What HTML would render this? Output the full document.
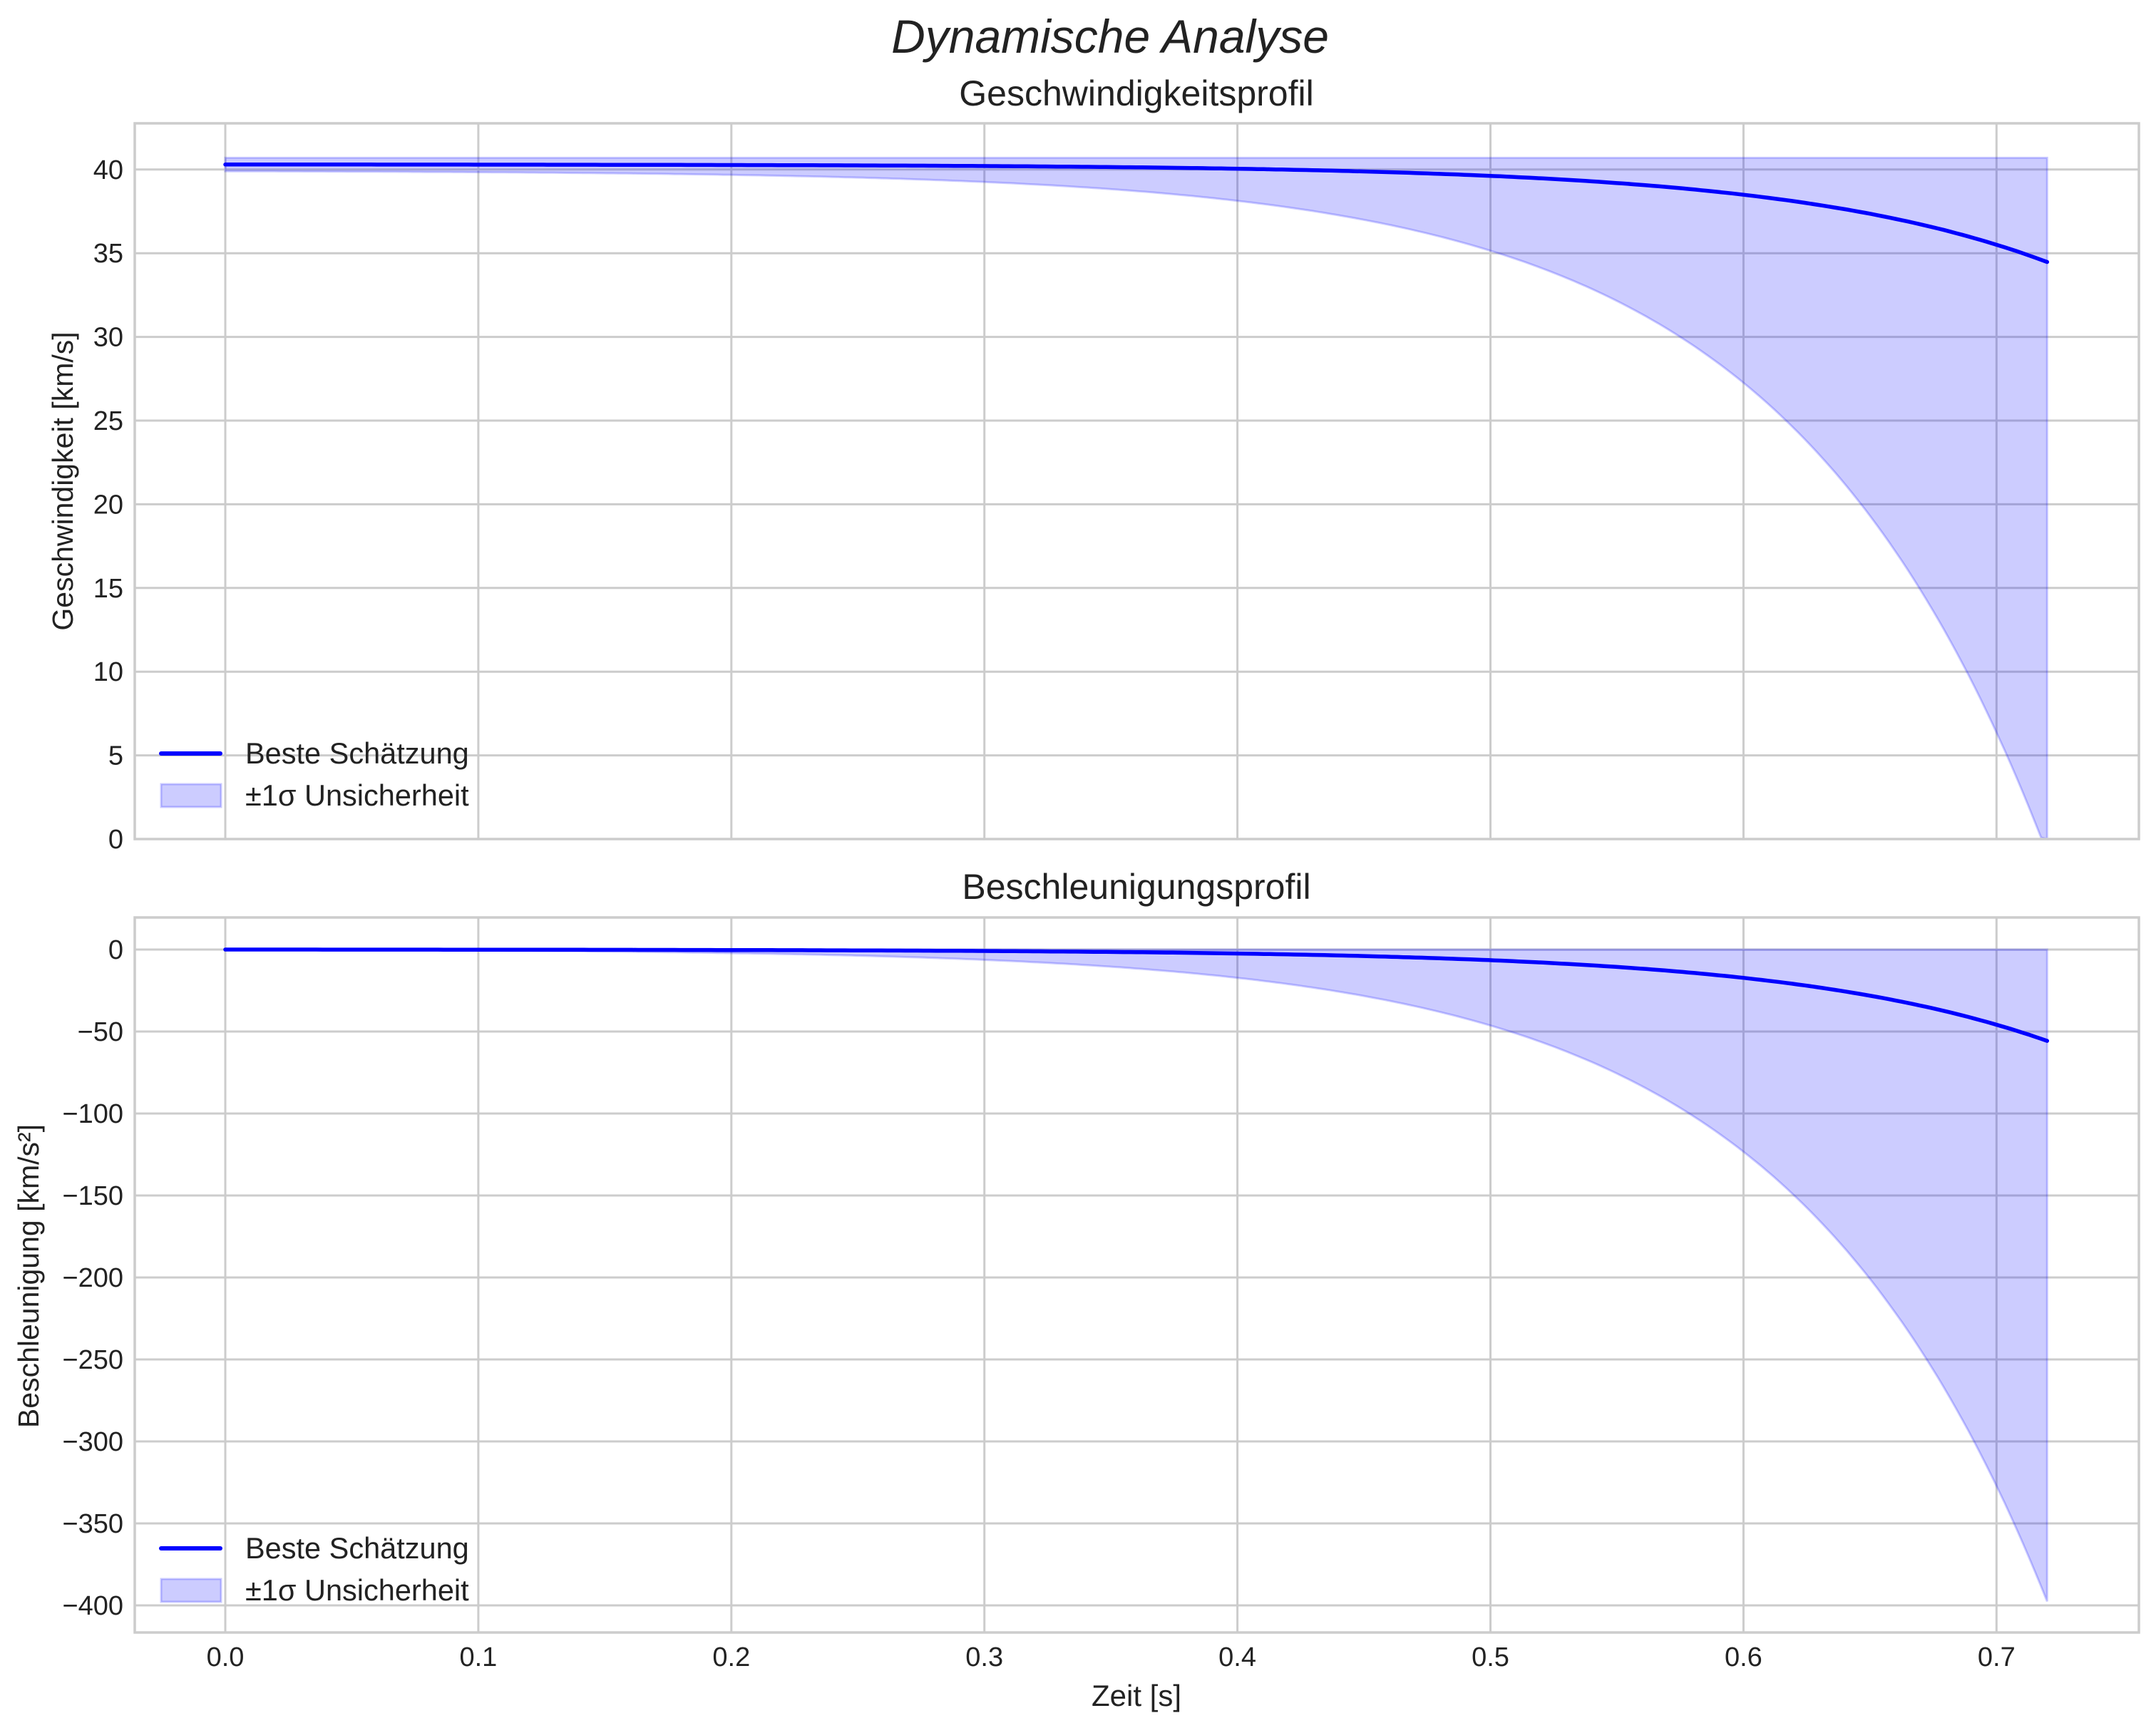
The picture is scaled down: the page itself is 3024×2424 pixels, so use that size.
<!DOCTYPE html>
<html><head><meta charset="utf-8"><style>
html,body{margin:0;padding:0;background:#fff;}
svg{display:block;font-family:"Liberation Sans",sans-serif;}
</style></head><body>
<svg id="s" width="3024" height="2424" viewBox="0 0 3024 2424" xmlns="http://www.w3.org/2000/svg">
<rect width="3024" height="2424" fill="#fff"/>
<text x="1557" y="74" font-size="66" font-style="italic" text-anchor="middle" fill="#222">Dynamische Analyse</text>
<text x="1594" y="148" font-size="50" text-anchor="middle" fill="#222">Geschwindigkeitsprofil</text>
<text x="1594" y="1261" font-size="50" text-anchor="middle" fill="#222">Beschleunigungsprofil</text>
<g id="grid" stroke="#cccccc" stroke-width="3" fill="none"></g>
<g id="data"></g>
<g id="spines" stroke="#cccccc" stroke-width="3.5" fill="none">
<rect x="189" y="173" width="2811" height="1004"/>
<rect x="189" y="1287" width="2811" height="1003"/>
</g>
<g id="labels" font-size="38" fill="#222"></g>
<text x="1594" y="2393" font-size="42" text-anchor="middle" fill="#222">Zeit [s]</text>
<text transform="translate(102,675) rotate(-90)" font-size="41" text-anchor="middle" fill="#222">Geschwindigkeit [km/s]</text>
<text transform="translate(54,1790) rotate(-90)" font-size="41" text-anchor="middle" fill="#222">Beschleunigung [km/s²]</text>
<g id="legend"></g>
</svg>
<script>
var NS="http://www.w3.org/2000/svg";
function el(p,t,a,txt){var e=document.createElementNS(NS,t);for(var k in a)e.setAttribute(k,a[k]);if(txt!==undefined)e.textContent=txt;document.getElementById(p).appendChild(e);return e;}
var X=function(t){return 316+t*3549;};
var Y1=function(v){return 1177-v*23.48;};
var Y2=function(a){return 1332-a*2.3;};
for(var i=0;i<=7;i++){var x=X(i/10);
 el('grid','line',{x1:x,y1:173,x2:x,y2:1177});el('grid','line',{x1:x,y1:1287,x2:x,y2:2290});
 el('labels','text',{x:x,y:2337,'text-anchor':'middle'},(i/10).toFixed(1));}
for(var v=0;v<=40;v+=5){var y=Y1(v);if(v>0)el('grid','line',{x1:189,y1:y,x2:3000,y2:y});
 el('labels','text',{x:173,y:y+13,'text-anchor':'end'},String(v));}
for(var a=0;a>=-400;a-=50){var y=Y2(a);el('grid','line',{x1:189,y1:y,x2:3000,y2:y});
 el('labels','text',{x:173,y:y+13,'text-anchor':'end'},a==0?'0':'\u2212'+(-a));}
var tau=0.1027,N=300,T=0.72;
function E(t){return Math.exp(t/tau)-1;}
var vl=[],vlo=[],vup=[],al=[],alo=[],aup=[];
for(var i=0;i<=N;i++){var t=T*i/N,e=E(t);
 vl.push([X(t),Y1(40.3-0.00526*e)]);
 vlo.push([X(t),Y1(Math.max(0,39.9-0.0368*e))]);
 vup.push([X(t),Y1(40.7)]);
 al.push([X(t),Y2(-0.0503*e)]);
 alo.push([X(t),Y2(-0.359*e)]);
 aup.push([X(t),Y2(0)]);}
function pts(a){return a.map(function(p){return p[0].toFixed(1)+','+p[1].toFixed(1);}).join(' ');}
function band(up,lo){return 'M'+pts(up)+' L'+pts(lo.slice().reverse())+' Z';}
el('data','path',{d:band(vup,vlo),fill:'rgba(0,0,255,0.2)',stroke:'rgba(0,0,255,0.2)','stroke-width':3});
el('data','path',{d:band(aup,alo),fill:'rgba(0,0,255,0.2)',stroke:'rgba(0,0,255,0.2)','stroke-width':3});
el('data','polyline',{points:pts(vl),fill:'none',stroke:'#0000ff','stroke-width':5.5,'stroke-linecap':'round'});
el('data','polyline',{points:pts(al),fill:'none',stroke:'#0000ff','stroke-width':5.5,'stroke-linecap':'round'});
[[1057,1116],[2172,2231]].forEach(function(r){
 el('legend','line',{x1:226,y1:r[0],x2:309,y2:r[0],stroke:'#0000ff','stroke-width':6,'stroke-linecap':'round'});
 el('legend','rect',{x:226,y:r[1]-16,width:84,height:32,fill:'rgba(0,0,255,0.2)',stroke:'rgba(0,0,255,0.2)','stroke-width':3});
 el('legend','text',{x:344,y:r[0]+14,'font-size':41.5,fill:'#222'},'Beste Schätzung');
 el('legend','text',{x:344,y:r[1]+14,'font-size':41.5,fill:'#222'},'±1σ Unsicherheit');
});
</script>
</body></html>
